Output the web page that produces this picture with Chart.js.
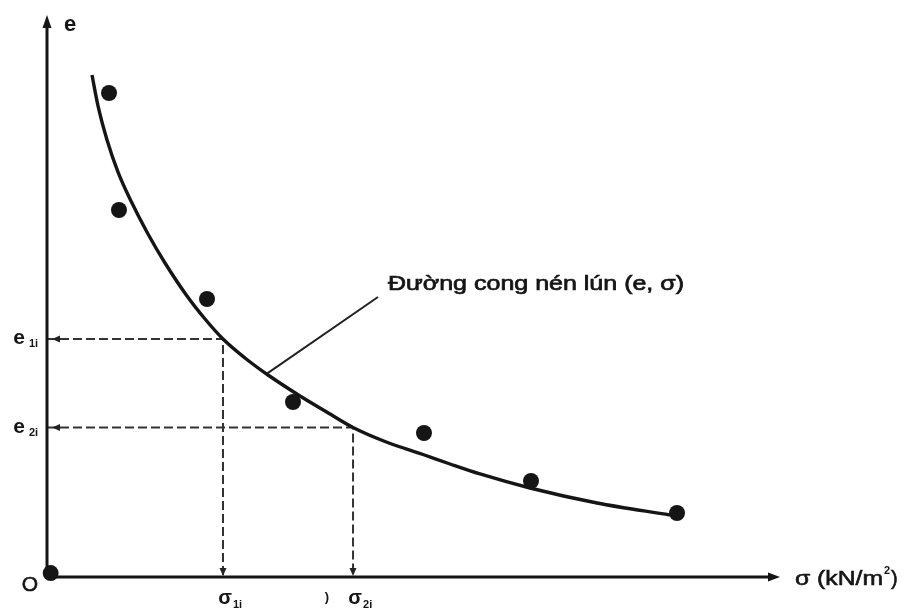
<!DOCTYPE html>
<html><head><meta charset="utf-8">
<script src="https://cdn.jsdelivr.net/npm/chart.js@4/dist/chart.umd.min.js"></script>
<style>html,body{margin:0;padding:0;background:#fff}#wrap{width:904px;height:608px}canvas{display:block}</style>
</head><body><div id="wrap"><canvas id="c" width="904" height="608"></canvas></div>
<script>
// Compression curve (e, sigma) (arbitrary units)
const curveSigma = [6.14, 6.96, 8.19, 9.69, 11.46, 13.78, 16.10, 19.10, 21.56, 24.01, 27.01, 30.15, 34.52, 37.93, 41.75, 46.11, 51.30, 54.98, 59.07, 65.89, 75.03, 84.99];
const curveE     = [89.32, 83.81, 77.76, 72.06, 66.90, 61.03, 55.87, 50.00, 45.91, 42.35, 38.97, 35.94, 32.21, 29.54, 26.60, 24.11, 21.80, 20.11, 18.33, 15.84, 13.17, 11.03];
// Test points
const pointSigma = [8.46, 9.82, 21.83, 33.56, 51.43, 66.03, 85.95];
const pointE     = [86.12, 65.30, 49.47, 31.14, 25.62, 17.08, 11.39];
// Origin dot
const originSigma = [0.5];
const originE = [0.7];
// Guide values
const guideSigma = [24.01, 41.75];
const guideE = [42.35, 26.6];
const guideSubs = ['1i', '2i'];
// Leader line of the annotation
const leaderSigma = [45.16, 30.01];
const leaderE = [49.82, 36.2];
// Texts
const curveLabel = 'Đường cong nén lún (e, σ)';
const xAxisLabel = 'σ (kN/m';
const xAxisSup = '2';
const xAxisClose = ')';
const yAxisLabel = 'e';
const originLabel = 'O';
const guideSymbolE = 'e';
const guideSymbolS = 'σ';
const strayMark = ')';
const axisMin = 0, axisMax = 100;

const zip = (xs, ys) => xs.map((x, i) => ({x, y: ys[i]}));
const INK = '#151515';
const FONT = '"Liberation Sans", Arial, sans-serif';

const datasets = [
  {label: 'curve', data: zip(curveSigma, curveE), showLine: true, borderColor: INK, borderWidth: 3.4,
   pointRadius: 0, cubicInterpolationMode: 'monotone', clip: false, order: 1},
  {label: 'points', data: zip(pointSigma, pointE), showLine: false, pointRadius: 8,
   backgroundColor: INK, borderWidth: 0, clip: false, order: 0},
  {label: 'origin', data: zip(originSigma, originE), showLine: false, pointRadius: 8,
   backgroundColor: INK, borderWidth: 0, clip: false, order: 0},
  {label: 'leader', data: zip(leaderSigma, leaderE), showLine: true, borderColor: '#222', borderWidth: 2,
   pointRadius: 0, tension: 0, clip: false, order: 2}
];
guideSigma.forEach((s, i) => {
  datasets.push({label: 'guide' + i,
    data: [{x: axisMin, y: guideE[i]}, {x: s, y: guideE[i]}, {x: s, y: axisMin}],
    showLine: true, borderColor: '#333', borderWidth: 2, borderDash: [9, 4], pointRadius: 0,
    tension: 0, clip: false, order: 3});
});

function arrow(ctx, tx, ty, dx, dy, len, half) {
  const px = -dy, py = dx;
  ctx.beginPath();
  ctx.moveTo(tx, ty);
  ctx.lineTo(tx - dx * len + px * half, ty - dy * len + py * half);
  ctx.lineTo(tx - dx * len - px * half, ty - dy * len - py * half);
  ctx.closePath();
  ctx.fill();
}
function text(ctx, str, x, y, size, opts = {}) {
  ctx.save();
  ctx.font = (opts.weight || 'normal') + ' ' + size + 'px ' + FONT;
  ctx.textAlign = opts.align || 'left';
  ctx.textBaseline = 'alphabetic';
  const natural = ctx.measureText(str).width;
  const sx = opts.width ? opts.width / natural : 1;
  ctx.translate(x, y);
  ctx.scale(sx, 1);
  ctx.fillStyle = INK;
  ctx.fillText(str, 0, 0);
  if (opts.bolden) { ctx.lineWidth = opts.bolden; ctx.strokeStyle = INK; ctx.strokeText(str, 0, 0); }
  ctx.restore();
  return natural * sx;
}

const decor = {
  id: 'decor',
  afterDatasetsDraw(chart) {
    const {ctx, scales: {x, y}} = chart;
    const x0 = x.getPixelForValue(axisMin), y0 = y.getPixelForValue(axisMin);
    const xT = x.getPixelForValue(axisMax), yT = y.getPixelForValue(axisMax);
    ctx.save();
    ctx.fillStyle = INK; ctx.strokeStyle = INK; ctx.lineWidth = 3; ctx.lineCap = 'butt';
    ctx.beginPath(); ctx.moveTo(x0, y0 + 1.5); ctx.lineTo(x0, yT + 8); ctx.stroke();
    arrow(ctx, x0, yT, 0, -1, 13, 4.5);
    ctx.beginPath(); ctx.moveTo(x0 - 1.5, y0); ctx.lineTo(xT - 8, y0); ctx.stroke();
    arrow(ctx, xT, y0, 1, 0, 12, 4.5);
    ctx.fillStyle = '#222';
    guideSigma.forEach((s, i) => {
      const gy = y.getPixelForValue(guideE[i]);
      const gx = x.getPixelForValue(s);
      arrow(ctx, x0 + 5, gy, -1, 0, 8, 3.5);
      arrow(ctx, gx, y0 - 1, 0, 1, 8, 3.5);
    });
    ctx.restore();

    text(ctx, yAxisLabel, x0 + 23, yT + 16, 22, {align: 'center', weight: 'bold'});
    text(ctx, originLabel, x0 - 17, y0 + 14, 21, {align: 'center', bolden: 0.6});
    guideSigma.forEach((s, i) => {
      const gy = y.getPixelForValue(guideE[i]);
      const gx = x.getPixelForValue(s);
      text(ctx, guideSymbolE, x0 - 28, gy + 5, 21, {align: 'center', weight: 'bold'});
      text(ctx, guideSubs[i], x0 - 18, gy + 8, 11, {weight: 'bold'});
      text(ctx, guideSymbolS, gx + 2, y0 + 27, 20, {align: 'center', weight: 'bold'});
      text(ctx, guideSubs[i], gx + 10, y0 + 31, 11, {weight: 'bold'});
    });
    text(ctx, strayMark, x.getPixelForValue(38.2), y0 + 24, 13, {align: 'center', weight: 'bold'});
    const lx = xT + 15, ly = y0 + 8;
    const w1 = text(ctx, xAxisLabel, lx, ly, 20, {width: 88, bolden: 0.6});
    text(ctx, xAxisSup, lx + w1 + 1, ly - 11, 11, {weight: 'bold'});
    text(ctx, xAxisClose, lx + w1 + 8, ly, 20, {bolden: 0.6});
    const ax = x.getPixelForValue(leaderSigma[0]) + 10, ay = y.getPixelForValue(leaderE[0]) - 7;
    text(ctx, curveLabel, ax, ay, 20, {width: 296, bolden: 0.7});
  }
};

new Chart(document.getElementById('c'), {
  type: 'scatter',
  data: {datasets},
  options: {
    responsive: false, animation: false, events: [],
    layout: {padding: {left: 47, right: 124, top: 15, bottom: 31}},
    scales: {
      x: {type: 'linear', min: axisMin, max: axisMax, display: false},
      y: {type: 'linear', min: axisMin, max: axisMax, display: false}
    },
    plugins: {legend: {display: false}, tooltip: {enabled: false}}
  },
  plugins: [decor]
});
</script></body></html>
